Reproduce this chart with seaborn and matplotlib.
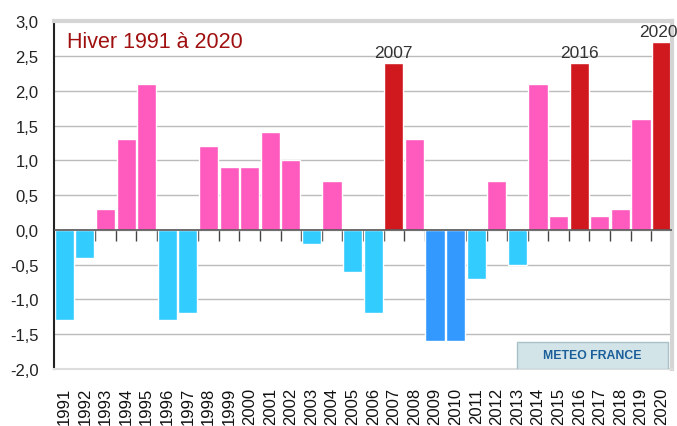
import matplotlib
matplotlib.use("Agg")
import matplotlib.pyplot as plt
from matplotlib.patches import Rectangle
import seaborn as sns
import pandas as pd
import numpy as np

years = [str(y) for y in range(1991, 2021)]
values = [-1.3, -0.4, 0.3, 1.3, 2.1, -1.3, -1.2, 1.2, 0.9, 0.9, 1.4, 1.0, -0.2, 0.7,
          -0.6, -1.2, 2.4, 1.3, -1.6, -1.6, -0.7, 0.7, -0.5, 2.1, 0.2, 2.4, 0.2, 0.3, 1.6, 2.7]
categories = ["froid", "froid", "doux", "doux", "doux", "froid", "froid", "doux", "doux", "doux",
              "doux", "doux", "froid", "doux", "froid", "froid", "record", "doux", "tres_froid",
              "tres_froid", "froid", "doux", "froid", "doux", "doux", "record", "doux", "doux",
              "doux", "record"]
highlight_years = ["2007", "2016", "2020"]
yticks = [-2.0, -1.5, -1.0, -0.5, 0.0, 0.5, 1.0, 1.5, 2.0, 2.5, 3.0]
palette = {"doux": "#FF5ABE", "froid": "#33CCFF", "tres_froid": "#3399FF", "record": "#D0181F"}

df = pd.DataFrame({"annee": years, "anomalie": values, "cat": categories})

sns.set_theme(style="white")
plt.rcParams["font.family"] = ["Liberation Sans", "DejaVu Sans"]

fig = plt.figure(figsize=(6.77, 4.27), dpi=100)
ax = fig.add_axes([0.0798, 0.1335, 0.9126, 0.8145])

sns.barplot(data=df, x="annee", y="anomalie", hue="cat", palette=palette, dodge=False,
            legend=False, width=0.93, saturation=1, ax=ax, order=years)

ax.set_xlim(-0.5, len(years) - 0.5)
ax.set_ylim(-2.0, 3.0)
ax.set_yticks(yticks)
ax.set_yticklabels([f"{v:.1f}".replace(".", ",") for v in yticks], fontsize=12, color="#222222")
ax.yaxis.grid(True, color="#BBBBBB", linewidth=1)
ax.set_axisbelow(True)
ax.axhline(0, color="#555555", linewidth=1.2, zorder=3)

ax.set_xlabel("")
ax.set_ylabel("")
ax.tick_params(axis="x", which="major", length=0, labelsize=12, labelrotation=90,
               labelcolor="#111111", pad=13)
ax.set_xticks(np.arange(-0.5, len(years), 1.0), minor=True)
ax.tick_params(axis="x", which="minor", length=8, width=1, color="#555555", direction="out")
ax.tick_params(axis="y", length=7, width=1.2, color="#222222", direction="out", pad=4)

sec = ax.secondary_xaxis(0.4)
sec.set_xticks(np.arange(-0.5, len(years), 1.0))
sec.set_xticklabels([])
sec.tick_params(length=8, width=1, color="#444444", direction="out")
for s in sec.spines.values():
    s.set_visible(False)

ax.spines["left"].set_color("#222222")
ax.spines["left"].set_linewidth(1.5)
ax.spines["bottom"].set_color("#DDDDDD")
ax.spines["bottom"].set_linewidth(1.5)
for side in ["top", "right"]:
    ax.spines[side].set_color("#D5D5D5")
    ax.spines[side].set_linewidth(3)

for y in highlight_years:
    i = years.index(y)
    xpos = i if i < len(years) - 1 else i - 0.15
    ax.text(xpos, values[i] + 0.04, y, ha="center", va="bottom", fontsize=12.5, color="#333333")

ax.text(0.021, 0.942, "Hiver 1991 à 2020", transform=ax.transAxes, ha="left", va="center",
        fontsize=15.5, color="#A01010")

ax.add_patch(Rectangle((0.749, 0.0), 0.244, 0.078, transform=ax.transAxes,
                       facecolor="#D2E4E8", edgecolor="#A8C0C6", linewidth=1, zorder=4))
ax.text(0.871, 0.039, "METEO FRANCE", transform=ax.transAxes, ha="center", va="center",
        fontsize=8.8, fontweight="bold", color="#1A5E9A", zorder=5)

fig.savefig("out.png", dpi=100)
